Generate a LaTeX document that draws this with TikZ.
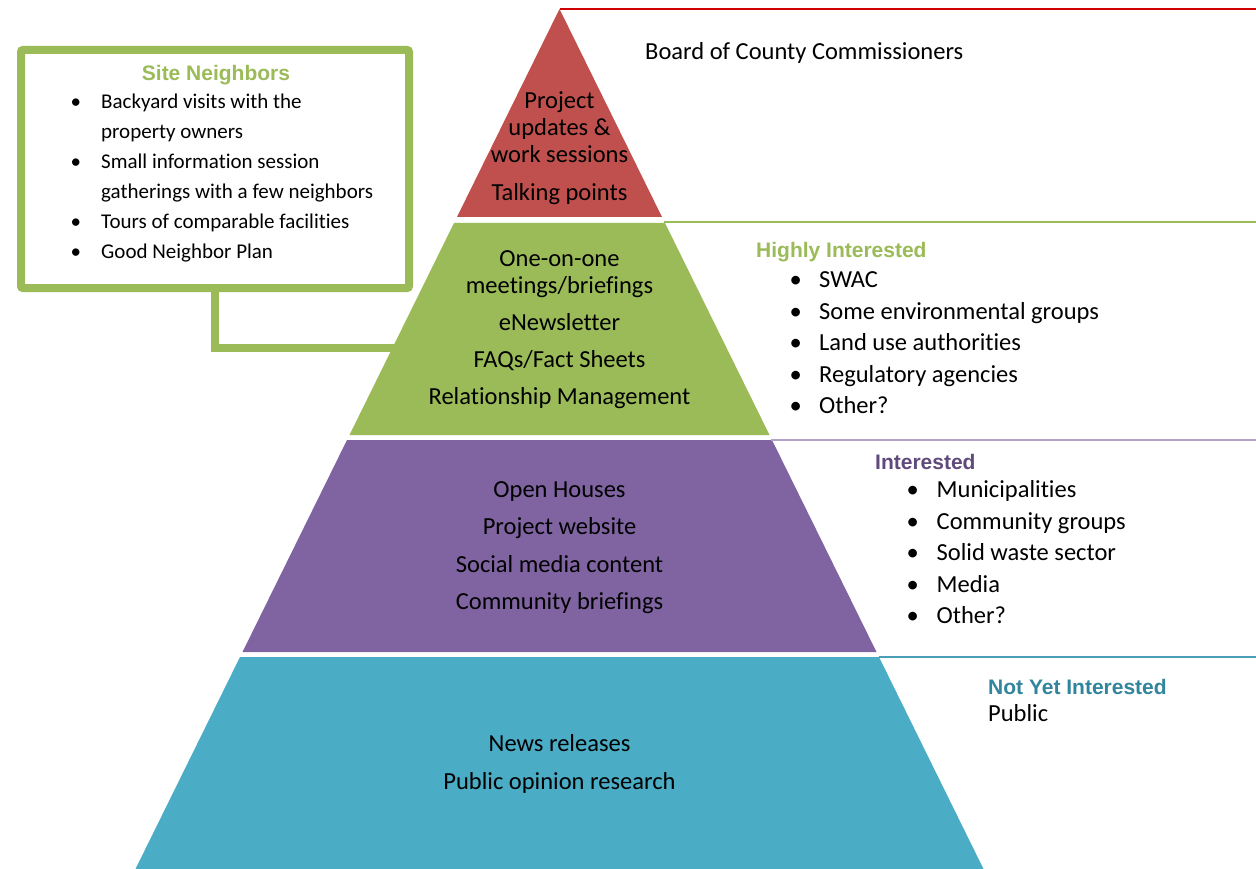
\documentclass[tikz,border=0pt]{standalone}
\usepackage{fontspec}
\setmainfont{Carlito}[Ligatures=NoCommon]
\newfontfamily\headfont{Liberation Sans}
\usetikzlibrary{positioning}

\definecolor{tierred}{HTML}{C0504D}
\definecolor{tiergreen}{HTML}{9BBB59}
\definecolor{tierpurple}{HTML}{8064A2}
\definecolor{tierblue}{HTML}{4BACC6}
\definecolor{headpurple}{HTML}{604A7B}
\definecolor{headblue}{HTML}{31859C}
\definecolor{rulered}{HTML}{D00000}
\definecolor{rulepurple}{HTML}{B3A2C7}
\definecolor{ruleblue}{HTML}{4A9FB8}

% bullet with a fixed indent
\newcommand{\bul}[2][30pt]{\makebox[#1][l]{\textbullet}#2}

\begin{document}
\begin{tikzpicture}[x=1pt,y=-1pt]
  \tikzstyle{tiertext}=[align=center,font=\fontsize{24.5}{27}\selectfont,inner sep=0pt,anchor=base]
  \tikzstyle{grouptext}=[align=left,font=\fontsize{24.5}{31.5}\selectfont,inner sep=0pt,anchor=base west]
  \tikzstyle{grouphead}=[font=\headfont\bfseries\fontsize{21}{24}\selectfont,inner sep=0pt,anchor=base west]
  \tikzstyle{neighbourtext}=[align=left,font=\fontsize{21}{30}\selectfont,inner sep=0pt,anchor=base west]
  \tikzstyle{neighbourbox}=[draw=tiergreen,line width=8pt,rounded corners=2pt,minimum width=388pt,minimum height=238pt,inner sep=0pt]
  \useasboundingbox[fill=white] (0,0) rectangle (1256,869);

  % site neighbours box and its link to the second tier
  \node[neighbourbox] (sitebox) at (215,169) {};
  \coordinate (greenedge) at (394,348);
  \draw[tiergreen,line width=8pt] (sitebox.south) |- (greenedge);

  % tiers
  \fill[tierred] (559.5,9) -- (662,217) -- (457,217) -- cycle;
  \fill[tiergreen] (454,223) -- (665,223) -- (769.5,435) -- (349.5,435) -- cycle;
  \fill[tierpurple] (347,440) -- (772,440) -- (876.5,652) -- (242.5,652) -- cycle;
  \fill[tierblue] (240,657) -- (879,657) -- (983.5,869) -- (135.5,869) -- cycle;

  % rules to the right
  \draw[rulered,line width=2pt] (559.5,9) -- (1256,9);
  \draw[tiergreen,line width=2pt] (664,222) -- (1256,222);
  \draw[rulepurple,line width=2pt] (771,440) -- (1256,440);
  \draw[ruleblue,line width=2pt] (879,657) -- (1256,657);

  % tier texts (anchored on the last line)
  \node[tiertext] (redtext) at (559.5,200.5) {Project\\updates \&\\work sessions\\[11pt]Talking points};
  \node[tiertext] (greentext) at (559.5,404.5) {One-on-one\\meetings/briefings\\[10pt]eNewsletter\\[10pt]FAQs/Fact Sheets\\[10.5pt]Relationship Management};
  \node[tiertext] (purpletext) at (559.5,609.5) {Open Houses\\[10.5pt]Project website\\[10.5pt]Social media content\\[10.5pt]Community briefings};
  \node[tiertext] (bluetext) at (559.5,789.5) {News releases\\[11pt]Public opinion research};

  % audiences
  \node[tiertext,anchor=base west] (board) at (645,60) {Board of County Commissioners};

  \node[grouphead,text=tiergreen] (hihead) at (756,258) {Highly Interested};
  \node[grouptext] (hilist) at ([xshift=33.5pt,yshift=-155.5pt]hihead.base west)
    {\bul[29.5pt]{SWAC}\\\bul[29.5pt]{Some environmental groups}\\\bul[29.5pt]{Land use authorities}\\\bul[29.5pt]{Regulatory agencies}\\\bul[29.5pt]{Other?}};

  \node[grouphead,text=headpurple] (inhead) at (875,469.5) {Interested};
  \node[grouptext] (inlist) at ([xshift=31.5pt,yshift=-154pt]inhead.base west)
    {\bul{Municipalities}\\\bul{Community groups}\\\bul{Solid waste sector}\\\bul{Media}\\\bul{Other?}};

  \node[grouphead,text=headblue] (nyhead) at (988,694.5) {Not Yet Interested};
  \node[grouptext] (nylist) at ([yshift=-27pt]nyhead.base west) {Public};

  \node[grouphead,anchor=base,text=tiergreen] (snhead) at (216,81) {Site Neighbors};
  \node[neighbourtext] (snlist) at (70.5,258.5)
    {\bul[30.5pt]{Backyard visits with the}\\\hspace*{30.5pt}property owners\\\bul[30.5pt]{Small information session}\\\hspace*{30.5pt}gatherings with a few neighbors\\\bul[30.5pt]{Tours of comparable facilities}\\\bul[30.5pt]{Good Neighbor Plan}};
\end{tikzpicture}
\end{document}
